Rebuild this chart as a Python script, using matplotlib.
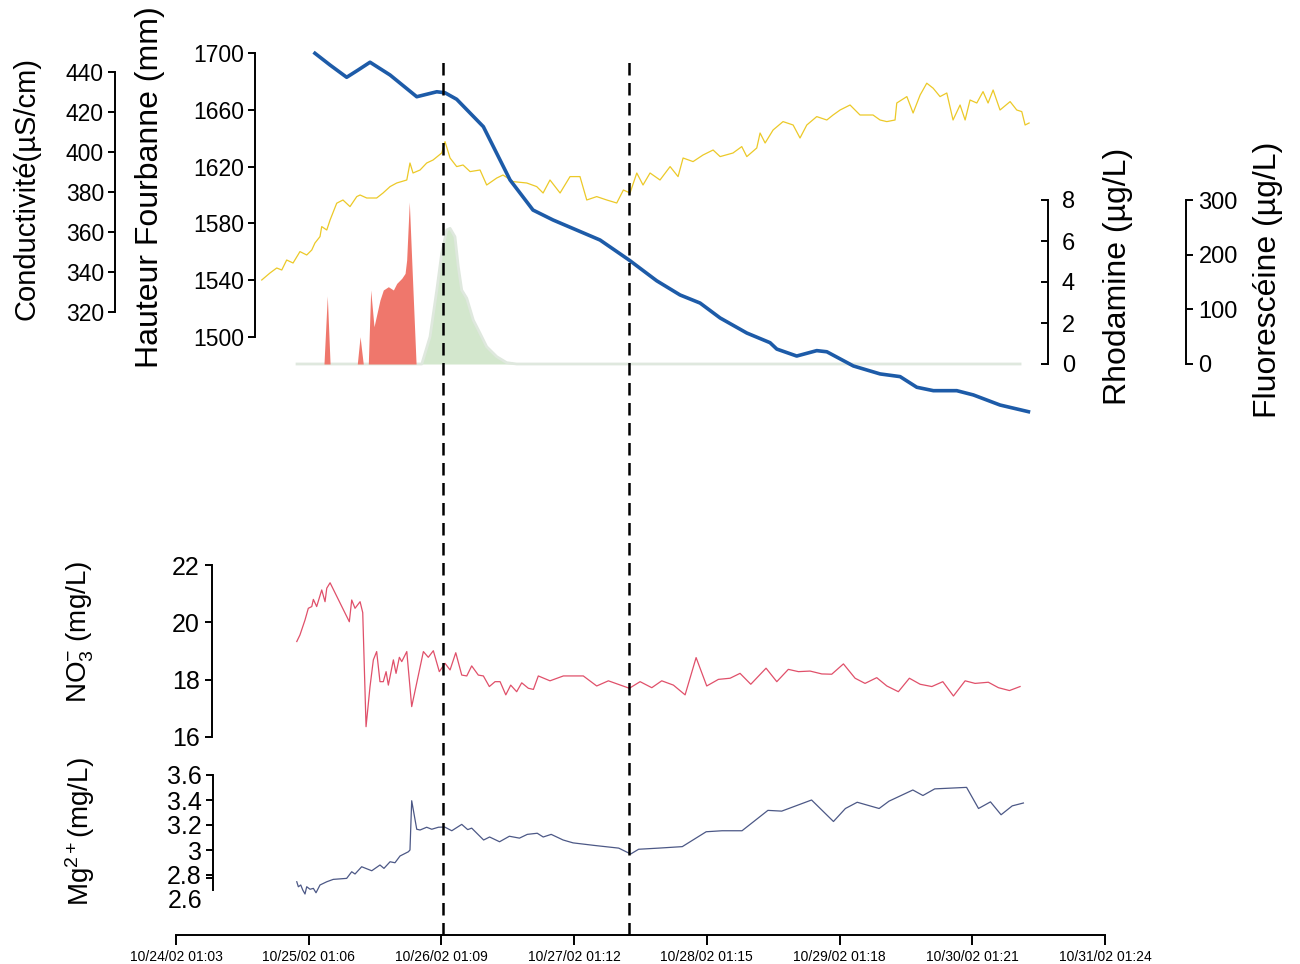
import numpy as np
import matplotlib.pyplot as plt
from matplotlib.transforms import ScaledTranslation

plt.rcParams['font.family'] = ['Liberation Sans', 'DejaVu Sans']
plt.rcParams['mathtext.fontset'] = 'custom'
plt.rcParams['mathtext.rm'] = 'Liberation Sans'
plt.rcParams['mathtext.it'] = 'Liberation Sans:italic'

# time axis: days after 10/24/02 01:03
tick_labels = ['10/24/02 01:03', '10/25/02 01:06', '10/26/02 01:09', '10/27/02 01:12',
               '10/28/02 01:15', '10/29/02 01:18', '10/30/02 01:21', '10/31/02 01:24']
event_days = [2.012, 3.414]

# water level (mm)
hauteur_t = [1.047, 1.161, 1.286, 1.372, 1.462, 1.613, 1.814, 1.965, 2.027, 2.115, 2.316,
             2.517, 2.690, 2.841, 3.195, 3.414, 3.622, 3.798, 3.949, 4.100, 4.301, 4.476,
             4.527, 4.677, 4.828, 4.904, 5.104, 5.305, 5.456, 5.582, 5.707, 5.883, 6.008,
             6.209, 6.423]
hauteur = [1699.8, 1691.5, 1682.9, 1688.0, 1693.5, 1684.5, 1669.2, 1672.7, 1672.0, 1667.4,
           1648.1, 1610.6, 1589.4, 1582.4, 1568.3, 1554.2, 1539.6, 1529.6, 1523.9, 1513.4,
           1502.8, 1496.0, 1491.5, 1486.6, 1490.4, 1489.6, 1479.6, 1474.0, 1472.1, 1464.6,
           1462.2, 1462.2, 1459.2, 1452.1, 1447.4]

# conductivity (uS/cm)
cond_t = [0.646, 0.708, 0.759, 0.797, 0.834, 0.882, 0.934, 0.985, 1.023, 1.047, 1.085, 1.098,
          1.136, 1.161, 1.211, 1.258, 1.311, 1.362, 1.387, 1.437, 1.512, 1.560, 1.613, 1.663,
          1.739, 1.763, 1.786, 1.839, 1.889, 1.937, 2.002, 2.027, 2.065, 2.115, 2.163, 2.216,
          2.291, 2.341, 2.417, 2.464, 2.540, 2.643, 2.718, 2.766, 2.818, 2.894, 2.969, 3.044,
          3.095, 3.170, 3.246, 3.321, 3.371, 3.421, 3.472, 3.519, 3.572, 3.647, 3.723, 3.783,
          3.821, 3.896, 3.971, 4.047, 4.100, 4.197, 4.263, 4.301, 4.376, 4.401, 4.439, 4.499,
          4.574, 4.650, 4.702, 4.753, 4.828, 4.904, 4.951, 5.004, 5.079, 5.154, 5.252, 5.305,
          5.356, 5.418, 5.431, 5.507, 5.554, 5.607, 5.657, 5.705, 5.757, 5.808, 5.855, 5.908,
          5.946, 5.983, 6.034, 6.081, 6.119, 6.157, 6.209, 6.285, 6.335, 6.373, 6.398, 6.428]
cond = [336.0, 339.5, 342.0, 341.0, 346.0, 344.5, 350.2, 348.5, 351.0, 354.5, 357.7, 362.7,
        361.0, 366.0, 374.4, 376.0, 372.7, 377.7, 378.5, 377.0, 377.0, 379.5, 382.7, 384.5,
        386.0, 394.5, 389.5, 391.0, 394.5, 396.0, 399.5, 405.2, 397.0, 392.7, 393.5, 390.2,
        391.0, 383.5, 387.0, 388.5, 385.2, 384.5, 382.7, 379.5, 386.0, 379.5, 387.7, 387.7,
        376.0, 377.7, 376.0, 374.5, 381.0, 379.5, 389.5, 383.5, 389.5, 386.0, 392.7, 387.7,
        397.0, 395.2, 398.5, 401.0, 397.7, 399.5, 402.7, 397.7, 402.0, 409.5, 404.5, 411.0,
        415.2, 413.5, 407.0, 413.5, 417.7, 416.0, 418.5, 421.0, 423.5, 418.5, 418.5, 416.0,
        415.2, 416.0, 424.5, 427.7, 419.5, 428.5, 434.4, 431.9, 427.7, 429.5, 416.0, 423.5,
        416.0, 426.0, 424.5, 430.2, 424.5, 431.0, 421.0, 425.2, 421.0, 420.2, 413.5, 414.5]

# rhodamine (ug/L)
rhoda_t = [1.115, 1.140, 1.161, 1.366, 1.387, 1.411, 1.449, 1.467, 1.492, 1.537, 1.562,
           1.600, 1.638, 1.663, 1.701, 1.726, 1.738, 1.758, 1.776, 1.809]
rhoda = [0, 3.32, 0, 0, 1.33, 0, 0, 3.61, 1.82, 3.12, 3.61, 3.77, 3.61, 3.93, 4.18, 4.42,
         5.07, 7.9, 5.07, 0]

# fluoresceine (ug/L)
fluo_t = [0.912, 1.852, 1.914, 1.965, 2.002, 2.040, 2.065, 2.102, 2.127, 2.153, 2.191, 2.240,
          2.291, 2.341, 2.417, 2.492, 2.567, 6.360]
fluo = [0, 0, 49.9, 135.3, 202.5, 245.1, 248.2, 232.8, 178.0, 135.3, 120.2, 80.5, 56.1,
        31.6, 13.4, 2.4, 0, 0]

# nitrate (mg/L)
no3_t = [0.910, 0.934, 0.972, 0.997, 1.023, 1.035, 1.060, 1.098, 1.123, 1.136, 1.161, 1.306,
         1.324, 1.349, 1.387, 1.407, 1.432, 1.462, 1.487, 1.512, 1.537, 1.562, 1.583, 1.600,
         1.638, 1.658, 1.683, 1.701, 1.739, 1.776, 1.864, 1.901, 1.939, 1.984, 2.027, 2.065,
         2.108, 2.153, 2.191, 2.228, 2.278, 2.316, 2.361, 2.404, 2.442, 2.485, 2.522, 2.567,
         2.605, 2.655, 2.693, 2.730, 2.818, 2.919, 3.069, 3.170, 3.258, 3.416, 3.497, 3.585,
         3.660, 3.748, 3.836, 3.919, 3.999, 4.087, 4.175, 4.250, 4.331, 4.446, 4.527, 4.614,
         4.690, 4.778, 4.866, 4.941, 5.029, 5.117, 5.192, 5.280, 5.356, 5.443, 5.526, 5.607,
         5.695, 5.778, 5.858, 5.946, 6.021, 6.121, 6.197, 6.280, 6.360]
no3 = [19.33, 19.56, 20.08, 20.49, 20.55, 20.80, 20.55, 21.13, 20.72, 21.19, 21.38, 20.02,
       20.78, 20.49, 20.72, 20.34, 16.36, 17.76, 18.69, 18.98, 17.93, 17.93, 18.28, 17.81,
       18.69, 18.22, 18.78, 18.63, 18.98, 17.06, 18.98, 18.78, 19.01, 18.28, 18.57, 18.34,
       18.94, 18.16, 18.13, 18.48, 18.16, 18.13, 17.76, 17.93, 17.93, 17.47, 17.81, 17.58,
       17.89, 17.70, 17.66, 18.13, 17.96, 18.13, 18.13, 17.78, 17.96, 17.70, 17.93, 17.72,
       17.96, 17.81, 17.47, 18.77, 17.78, 18.01, 18.05, 18.22, 17.84, 18.40, 17.93, 18.36,
       18.28, 18.30, 18.20, 18.19, 18.55, 18.05, 17.87, 18.07, 17.78, 17.58, 18.05, 17.84,
       17.76, 17.93, 17.43, 17.96, 17.87, 17.91, 17.72, 17.62, 17.76]

# magnesium (mg/L)
mg_t = [0.910, 0.922, 0.940, 0.955, 0.972, 0.985, 1.010, 1.035, 1.055, 1.085, 1.136, 1.185,
        1.286, 1.324, 1.349, 1.399, 1.475, 1.537, 1.567, 1.613, 1.650, 1.688, 1.751, 1.763,
        1.776, 1.814, 1.839, 1.889, 1.927, 1.977, 2.024, 2.078, 2.153, 2.198, 2.228, 2.318,
        2.363, 2.438, 2.512, 2.588, 2.647, 2.722, 2.767, 2.827, 2.917, 2.992, 3.157, 3.336,
        3.426, 3.486, 3.636, 3.815, 3.995, 4.115, 4.265, 4.460, 4.564, 4.789, 4.954, 5.044,
        5.133, 5.298, 5.373, 5.552, 5.628, 5.717, 5.957, 6.047, 6.137, 6.217, 6.301, 6.385]
mg = [2.746, 2.706, 2.720, 2.680, 2.648, 2.706, 2.686, 2.693, 2.658, 2.720, 2.746, 2.765,
      2.773, 2.826, 2.808, 2.866, 2.834, 2.880, 2.853, 2.906, 2.898, 2.952, 2.986, 3.000,
      3.394, 3.166, 3.160, 3.182, 3.166, 3.182, 3.184, 3.154, 3.205, 3.163, 3.175, 3.080,
      3.104, 3.066, 3.110, 3.095, 3.125, 3.134, 3.104, 3.125, 3.080, 3.057, 3.036, 3.015,
      2.968, 3.006, 3.015, 3.027, 3.146, 3.154, 3.154, 3.317, 3.311, 3.400, 3.228, 3.332,
      3.382, 3.332, 3.391, 3.480, 3.436, 3.489, 3.501, 3.332, 3.385, 3.282, 3.353, 3.376]

W, H = 1300, 964
X0, X1 = 176, 1105


def box(y0, y1):
    return [X0 / W, 1 - y1 / H, (X1 - X0) / W, (y1 - y0) / H]


def fit_ylim(ax, va, ya, vb, yb, top, bottom):
    k = (vb - va) / (yb - ya)
    ax.set_ylim(va + (bottom - ya) * k, va + (top - ya) * k)


def style_y(ax, side, xpx, lo, hi, ticks, fs, direction, pad, length=5):
    for s in ax.spines.values():
        s.set_visible(False)
    sp = ax.spines[side]
    sp.set_visible(True)
    sp.set_position(('axes', (xpx - X0) / (X1 - X0)))
    sp.set_bounds(lo, hi)
    sp.set_linewidth(1.4)
    ax.yaxis.set_ticks_position(side)
    ax.set_yticks(ticks)
    ax.tick_params(axis='y', direction=direction, length=length, width=1.4,
                   labelsize=fs, pad=pad)
    ax.set_xlim(0, 7)
    ax.set_xticks([])
    ax.patch.set_visible(False)


fig = plt.figure(figsize=(13, 9.64), dpi=100)

# top panel
ax_f = fig.add_axes(box(40, 420))
ax_f.plot(fluo_t, fluo, color='#dfe8de', lw=2)
ax_f.fill_between(fluo_t, fluo, 0, color='#d3e7cd', lw=0)
fit_ylim(ax_f, 0, 364, 300, 200, 40, 420)
style_y(ax_f, 'right', 1186, 0, 300, [0, 100, 200, 300], 17, 'out', 4)

ax_r = fig.add_axes(box(40, 420))
ax_r.fill_between(rhoda_t, rhoda, 0, color='#ef776c', lw=0)
fit_ylim(ax_r, 0, 364, 8, 200, 40, 420)
style_y(ax_r, 'right', 1048, 0, 8, [0, 2, 4, 6, 8], 17, 'in', 10)

ax_c = fig.add_axes(box(40, 420))
ax_c.plot(cond_t, cond, color='#ecc928', lw=0.9)
fit_ylim(ax_c, 440, 72, 320, 312, 40, 420)
style_y(ax_c, 'left', 115, 320, 440, np.arange(320, 441, 20), 16.5, 'out', 3)

ax_h = fig.add_axes(box(40, 420))
ax_h.plot(hauteur_t, hauteur, color='#1d5ba8', lw=2.6)
fit_ylim(ax_h, 1700, 53, 1500, 337, 40, 420)
style_y(ax_h, 'left', 255, 1500, 1700, np.arange(1500, 1701, 40), 16.5, 'out', 3)

# bottom panel
ax_n = fig.add_axes(box(550, 935))
ax_n.plot(no3_t, no3, color='#e0506a', lw=0.9)
fit_ylim(ax_n, 22, 565, 16, 737, 550, 935)
style_y(ax_n, 'left', 212, 16, 22, [16, 18, 20, 22], 18, 'out', 4)

ax_m = fig.add_axes(box(550, 935))
ax_m.plot(mg_t, mg, color='#4c5886', lw=0.9)
fit_ylim(ax_m, 3.6, 775, 2.8, 875, 550, 935)
style_y(ax_m, 'left', 213, 2.68, 3.6, [2.776, 2.8, 3.0, 3.2, 3.4, 3.6], 18, 'out', 3)
ax_m.set_yticklabels(['2.6', '2.8', '3', '3.2', '3.4', '3.6'])
lab26 = ax_m.get_yticklabels()[0]
lab26.set_transform(lab26.get_transform() + ScaledTranslation(0, -21 / 100, fig.dpi_scale_trans))

# shared time axis with the two event lines
ax_x = fig.add_axes(box(40, 935))
for s in ['top', 'left', 'right']:
    ax_x.spines[s].set_visible(False)
ax_x.spines['bottom'].set_linewidth(1.4)
ax_x.set_xlim(0, 7)
ax_x.set_ylim(0, 1)
ax_x.set_yticks([])
ax_x.set_xticks(range(len(tick_labels)))
ax_x.set_xticklabels(tick_labels)
ax_x.tick_params(axis='x', length=7, width=1.4, labelsize=10, pad=4)
ax_x.patch.set_visible(False)
for d in event_days:
    ax_x.axvline(d, ymin=0, ymax=(935 - 55) / (935 - 40), color='black', lw=1.8,
                 linestyle=(0, (5, 3)))

# axis titles
def ftext(x, y, s, fs):
    fig.text(x / W, 1 - y / H, s, rotation=90, ha='center', va='center', fontsize=fs)

ftext(27, 188, 'Conductivité(µS/cm)', 21)
ftext(150, 187, 'Hauteur Fourbanne (mm)', 23)
ftext(1118, 276, 'Rhodamine (µg/L)', 23)
ftext(1268, 280, 'Fluorescéine (µg/L)', 23)
ftext(80, 632, r'NO$_3^{-}$ (mg/L)', 20)
ftext(80, 832, r'Mg$^{2+}$(mg/L)', 20)

fig.savefig('out.png', dpi=100)
